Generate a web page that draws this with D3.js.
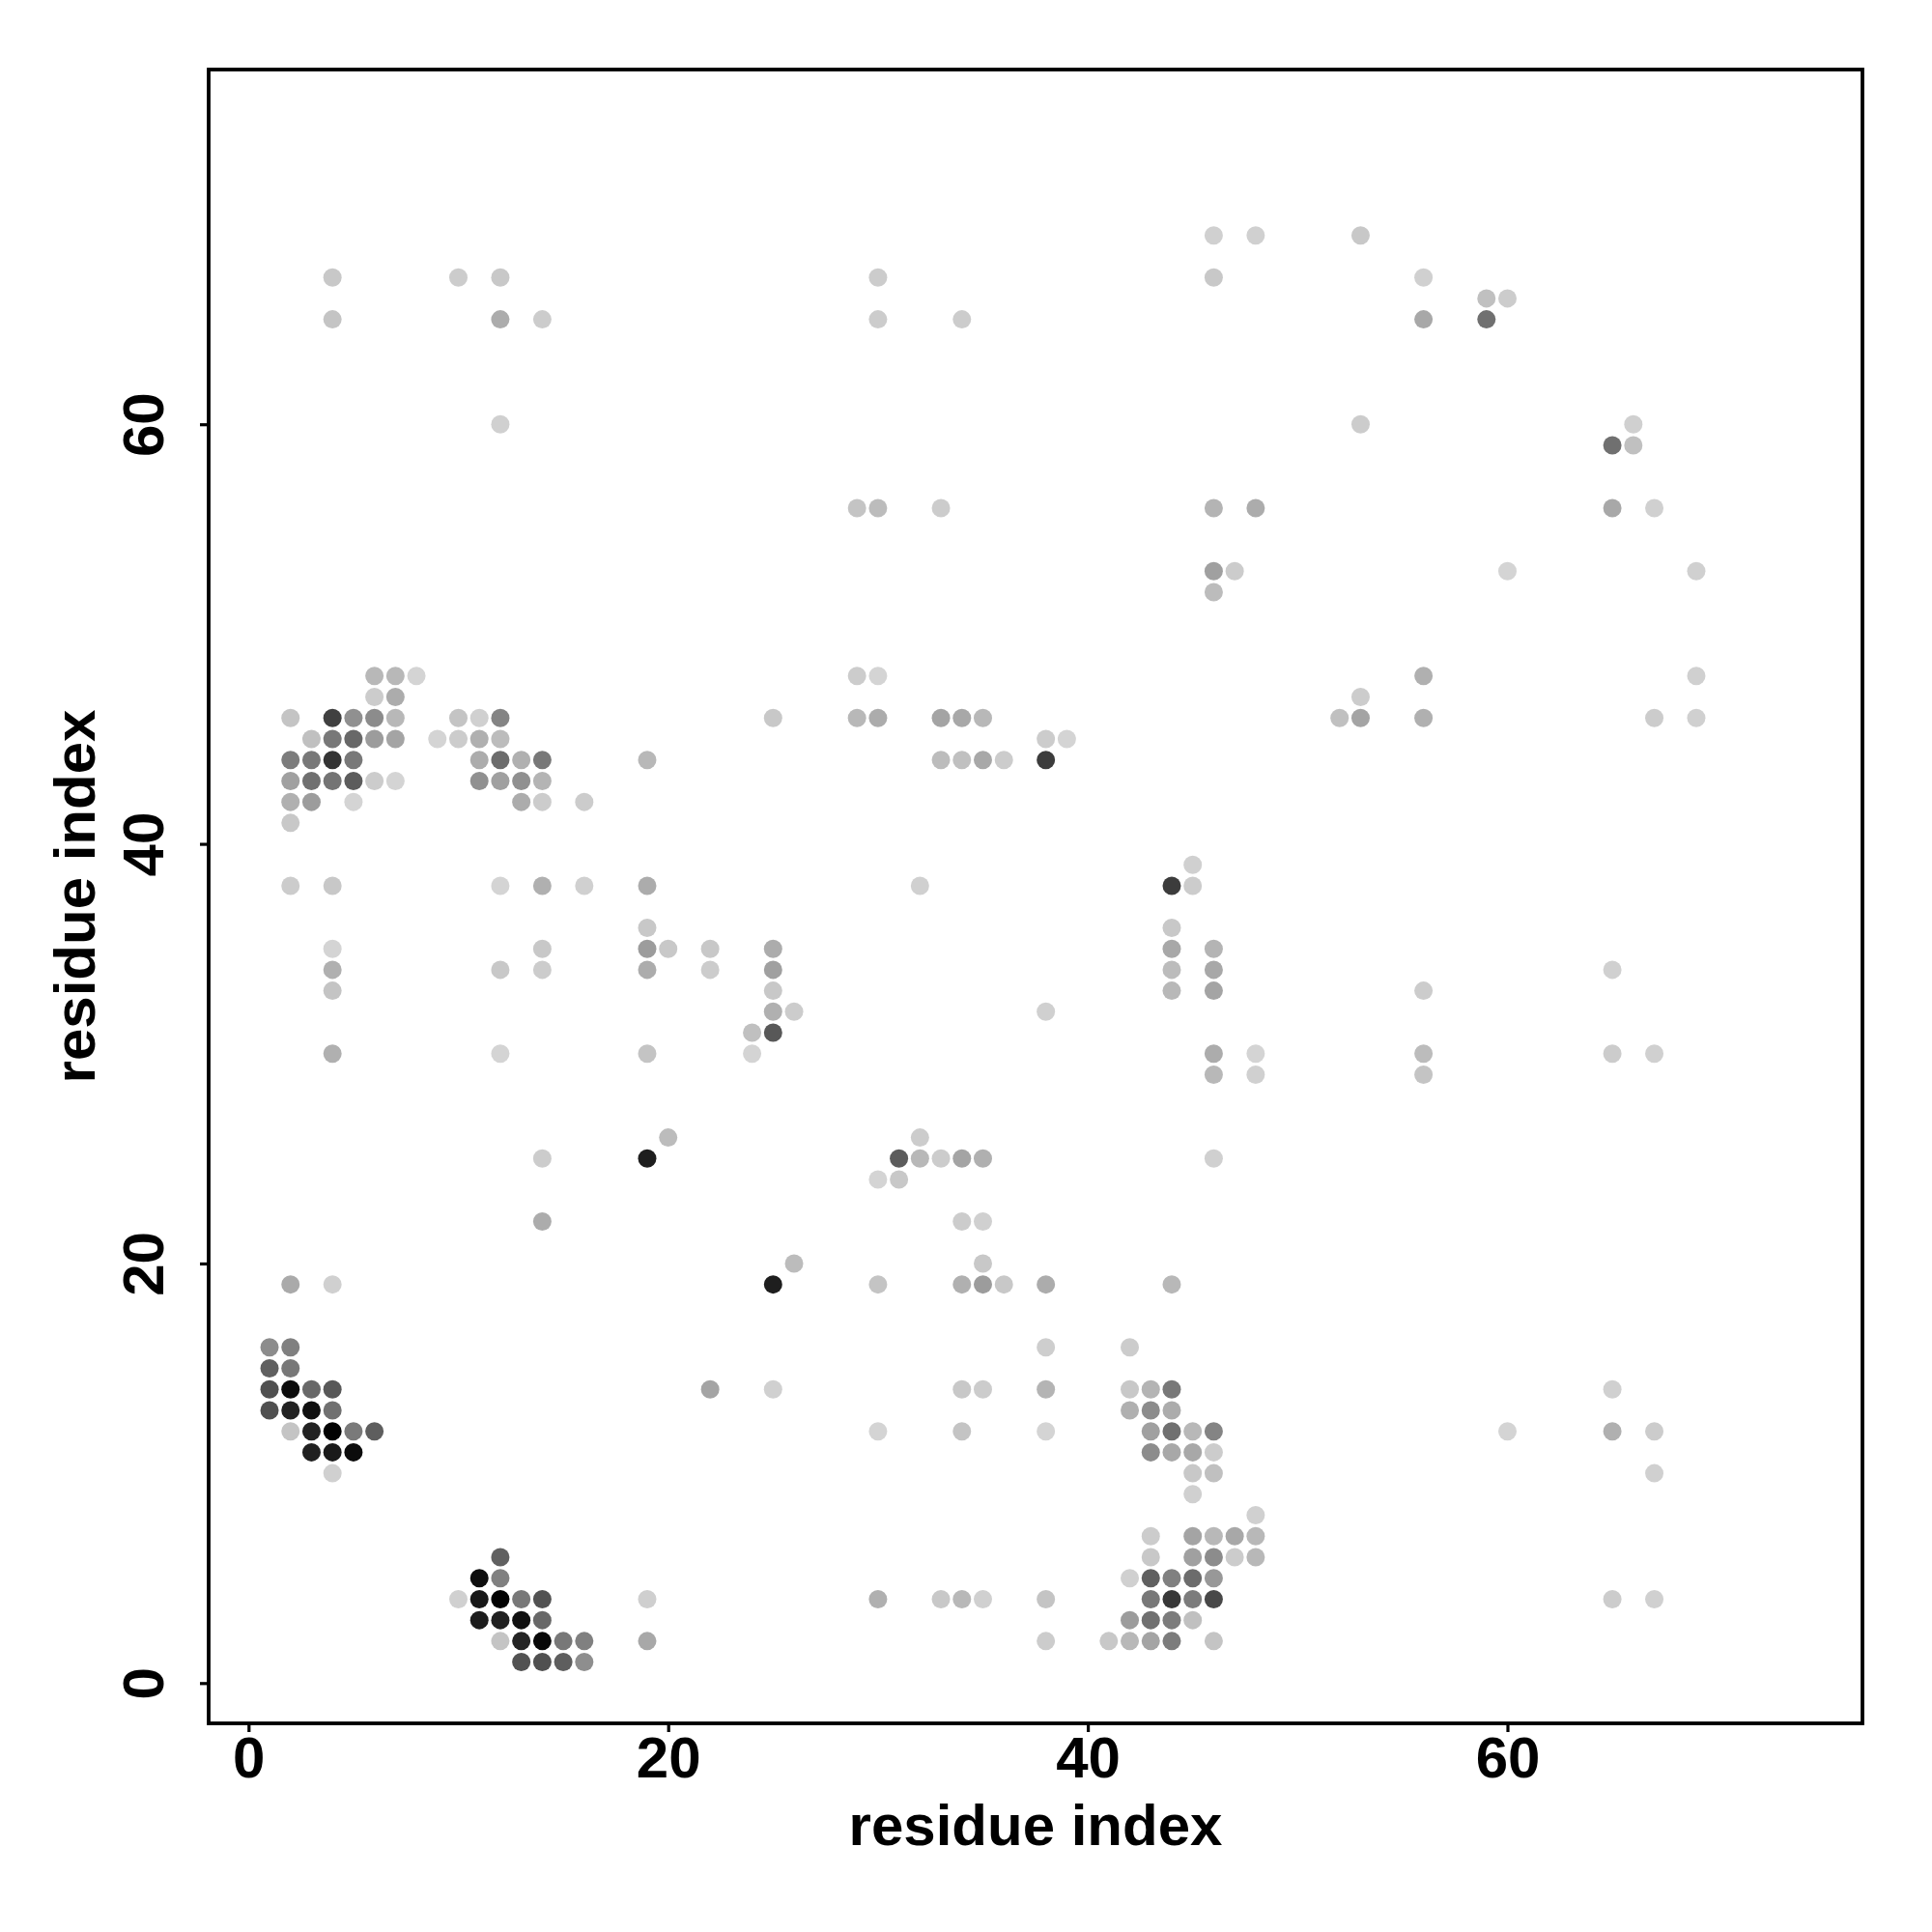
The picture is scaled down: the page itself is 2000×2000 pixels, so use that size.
<!DOCTYPE html>
<html><head><meta charset="utf-8">
<script src="https://cdn.jsdelivr.net/npm/d3@7/dist/d3.min.js"></script>
<style>html,body{margin:0;padding:0;background:#fff}svg{display:block}</style>
</head><body><div id="chart"></div>
<script>
const rowY = [69,67,66,65,60,59,56,53,52,48,47,46,45,44,43,42,41,39,38,36,35,34,33,32,31,30,29,26,25,24,22,20,19,16,15,14,13,12,11,10,9,8,7,6,5,4,3,2,1];
const rowX = [
[46,48,53],
[4,10,12,30,46,56],
[59,60],
[4,12,14,30,34,56,59],
[12,53,66],
[65,66],
[29,30,33,46,48,65,67],
[46,47,60,69],
[46],
[6,7,8,29,30,56,69],
[6,7,53],
[2,4,5,6,7,10,11,12,25,29,30,33,34,35,52,53,56,67,69],
[3,4,5,6,7,9,10,11,12,38,39],
[2,3,4,5,11,12,13,14,19,33,34,35,36,38],
[2,3,4,5,6,7,11,12,13,14],
[2,3,5,13,14,16],
[2],
[45],
[2,4,12,14,16,19,32,44,45],
[19,44],
[4,14,19,20,22,25,44,46],
[4,12,14,19,22,25,44,46,65],
[4,25,44,46,56],
[25,26,38],
[24,25],
[4,12,19,24,46,48,56,65,67],
[46,48,56],
[20,32],
[14,19,31,32,33,34,35,46],
[30,31],
[14,34,35],
[26,35],
[2,4,25,30,34,35,36,38,44],
[1,2,38,42],
[1,2],
[1,2,3,4,22,25,34,35,38,42,43,44,65],
[1,2,3,4,42,43,44],
[2,3,4,5,6,30,34,38,43,44,45,46,60,65,67],
[3,4,5,43,44,45,46],
[4,45,46,67],
[45],
[48],
[43,45,46,47,48],
[12,43,45,46,47,48],
[11,12,42,43,44,45,46],
[10,11,12,13,14,19,30,33,34,35,38,43,44,45,46,65,67],
[11,12,13,14,42,43,44,45],
[12,13,14,15,16,19,38,41,42,43,44,46],
[13,14,15,16]
];
const rowShade = [
[208,208,200],
[200,204,200,204,200,208],
[192,204],
[196,172,204,204,204,168,112],
[208,204,208],
[112,192],
[196,188,204,180,172,168,208],
[160,204,212,208],
[188],
[184,184,212,204,212,176,208],
[204,172,204],
[196,64,144,140,184,196,208,132,200,184,172,164,168,184,192,164,176,204,208],
[192,120,104,156,164,212,204,176,188,204,212],
[124,120,52,120,172,108,176,120,184,188,192,168,204,60],
[160,112,116,92,204,212,144,160,144,180],
[176,156,212,172,204,204],
[200],
[208],
[204,200,212,176,208,172,208,60,204],
[200,200],
[212,200,156,200,200,172,168,180],
[176,200,204,172,204,160,188,168,208],
[196,200,184,164,204],
[176,204,208],
[192,88],
[176,212,196,212,172,212,188,204,208],
[184,208,196],
[188,204],
[204,30,92,184,204,164,176,208],
[212,200],
[172,204,208],
[188,200],
[170,208,30,196,176,156,200,172,184],
[140,128,206,204],
[96,120],
[80,12,104,88,164,208,200,204,180,200,180,120,208],
[80,34,16,112,176,140,172],
[196,34,2,122,94,212,196,212,160,112,184,132,212,176,204],
[32,26,12,140,168,168,204],
[208,200,192,208],
[208],
[208],
[204,164,184,168,184],
[96,200,160,140,204,184],
[14,128,208,96,128,108,152],
[208,24,2,120,82,207,176,200,184,208,196,120,56,124,72,204,208],
[28,32,16,104,156,112,124,192],
[196,36,8,120,128,168,204,200,184,164,124,196],
[82,80,94,142]
];
const tickValues = [0,20,40,60];
const axisLabel = "residue index";

const W = 2000, H = 2000;
const box = {left:216, right:1928, top:72, bottom:1784};
const x = d3.scaleLinear().domain([0,60]).range([257.3,1560.5]);
const y = d3.scaleLinear().domain([0,60]).range([1742.3,439.2]);
const grey = v => d3.rgb(v,v,v).formatHex();

const points = rowY.flatMap((yy,i)=>rowX[i].map((xx,j)=>({x:xx,y:yy,g:rowShade[i][j]})));

const svg = d3.select("#chart").append("svg").attr("width",W).attr("height",H).attr("viewBox",`0 0 ${W} ${H}`);
svg.append("rect").attr("width",W).attr("height",H).attr("fill","#fff");

svg.append("g").selectAll("circle").data(points).join("circle")
  .attr("cx",d=>x(d.x)).attr("cy",d=>y(d.y)).attr("r",9.5).attr("fill",d=>grey(d.g));

const font = '"Liberation Sans", Arial, sans-serif';
const gx = svg.append("g").attr("transform",`translate(0,${box.bottom})`)
  .call(d3.axisBottom(x).tickValues(tickValues).tickSize(9).tickPadding(0).tickFormat(d3.format("d")));
const gy = svg.append("g").attr("transform",`translate(${box.left},0)`)
  .call(d3.axisLeft(y).tickValues(tickValues).tickSize(9).tickPadding(0).tickFormat(d3.format("d")));
[gx,gy].forEach(g=>{
  g.select(".domain").remove();
  g.selectAll("line").attr("stroke","#000").attr("stroke-width",3.2);
  g.selectAll("text").attr("fill","#000").attr("font-family",font).attr("font-weight","bold").attr("font-size",60);
});
gx.selectAll("text").attr("y",56).attr("dy",0).attr("text-anchor","middle");
gy.selectAll("text").attr("x",0).attr("y",0).attr("dy",0).attr("text-anchor","middle")
  .attr("transform","translate(-47,0) rotate(-90)");

svg.append("rect").attr("x",box.left).attr("y",box.top).attr("width",box.right-box.left).attr("height",box.bottom-box.top)
  .attr("fill","none").attr("stroke","#000").attr("stroke-width",3.8);

svg.append("text").attr("x",(box.left+box.right)/2).attr("y",1910).attr("text-anchor","middle")
  .attr("font-family",font).attr("font-weight","bold").attr("font-size",60).text(axisLabel);
svg.append("text").attr("transform",`translate(98,${(box.top+box.bottom)/2}) rotate(-90)`).attr("text-anchor","middle")
  .attr("font-family",font).attr("font-weight","bold").attr("font-size",60).text(axisLabel);
</script></body></html>
